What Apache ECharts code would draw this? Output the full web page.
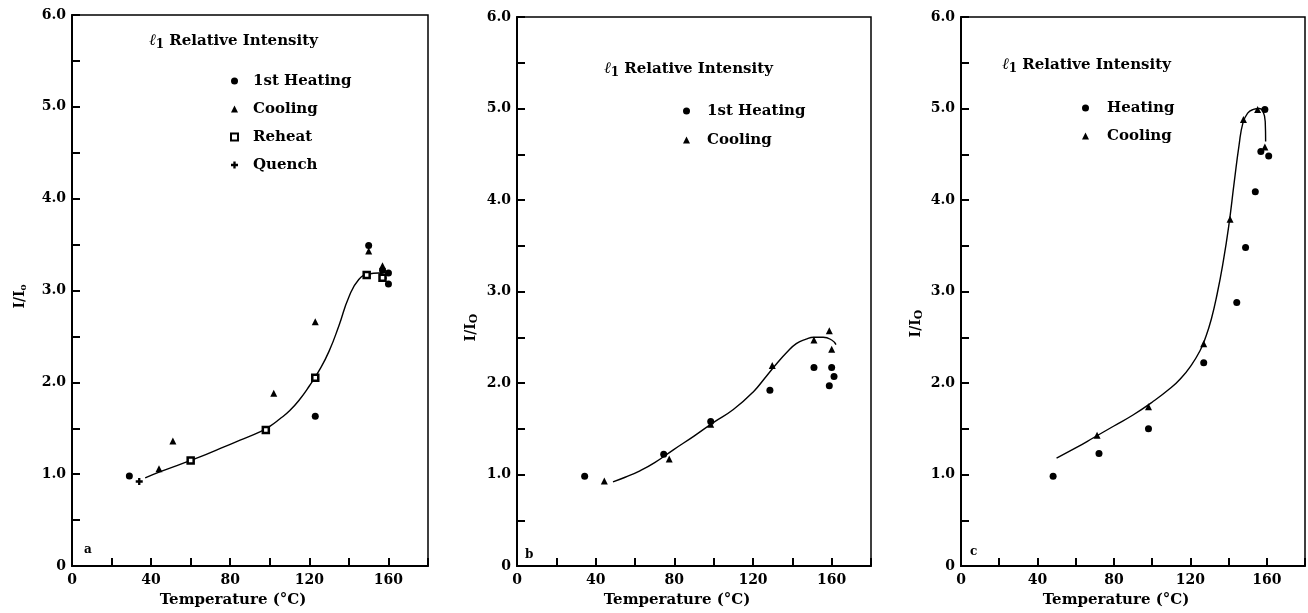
<!DOCTYPE html>
<html>
<head>
<meta charset="utf-8">
<script src="https://cdn.jsdelivr.net/npm/echarts@6/dist/echarts.min.js"></script>
<style>html,body{margin:0;padding:0;background:#fff}#c{width:1308px;height:613px}</style>
</head>
<body>
<div id="c"></div>
<script>
// ---- data (temperature °C, I/I0) ----
var heatA = [[29,0.98],[123,1.63],[150,3.49],[157,3.22],[160,3.19],[160,3.07]];
var coolA = [[44,1.06],[51,1.36],[102,1.88],[123,2.66],[150,3.43],[157,3.27]];
var reheatA = [[60,1.15],[98,1.48],[123,2.05],[149,3.17],[157,3.14]];
var quenchA = [[34,0.92]];
var curveA = [[37,0.96],[45,1.03],[55,1.11],[65,1.19],[75,1.28],[85,1.37],[95,1.46],[100,1.52],[105,1.6],[110,1.69],[115,1.81],[120,1.96],[125,2.13],[130,2.34],[135,2.62],[140,2.93],[145,3.12],[150,3.18],[155,3.19],[159,3.13]];

var heatB = [[34.4,0.98],[74.6,1.22],[98.5,1.58],[128.6,1.92],[151,2.17],[160,2.17],[158.8,1.97],[161.2,2.07]];
var coolB = [[44.4,0.93],[77.4,1.17],[98.5,1.55],[129.8,2.19],[151,2.47],[158.8,2.57],[160,2.37]];
var curveB = [[48.8,0.92],[55,0.97],[62.5,1.04],[70,1.13],[79.5,1.27],[90,1.42],[100,1.57],[110,1.71],[120,1.9],[127,2.08],[132,2.21],[137,2.33],[142,2.43],[147,2.48],[151,2.5],[155.7,2.5],[160,2.47],[162.2,2.42]];

var heatC = [[48.2,0.98],[72.2,1.23],[98.1,1.50],[127,2.22],[144.3,2.88],[148.9,3.48],[154,4.09],[159,4.99],[156.9,4.53],[161,4.48]];
var coolC = [[71.2,1.43],[98.1,1.74],[127,2.43],[140.8,3.79],[147.8,4.88],[155.2,4.99],[159,4.58]];
var curveC = [[50,1.18],[60,1.29],[70,1.41],[80,1.53],[90,1.65],[100,1.79],[110,1.95],[115,2.05],[120,2.18],[125,2.35],[128,2.5],[131,2.7],[134,2.97],[137,3.3],[140,3.7],[143,4.2],[145.5,4.6],[147.5,4.84],[150,4.95],[153,4.99],[156,5.0],[158,4.97],[159.2,4.85],[159.4,4.64]];

var xTickLabels = [0,40,80,120,160];
var yTickLabels = [0,1,2,3,4,5,6];
var panelLetters = ['a','b','c'];
var titleText = 'Relative Intensity';
var xName = 'Temperature (°C)';

var FONT = 'DejaVu Serif';
var PLUS = 'path://M2,0H4V2H6V4H4V6H2V4H0V2H2Z';

var grids = [
  {left:72, top:15, width:356, height:554},
  {left:517, top:17, width:354, height:552},
  {left:961, top:17, width:354, height:551}
];

function xAxis(i){
  return {
    gridIndex:i, type:'value', min:0, max:180, interval:20,
    axisLine:{show:true, onZero:false, lineStyle:{color:'#000', width:2}},
    axisTick:{show:true, inside:true, length:8, lineStyle:{color:'#000', width:2}},
    splitLine:{show:false},
    axisLabel:{color:'#000', fontFamily:FONT, fontWeight:'bold', fontSize:14, margin:7,
      formatter:function(v){ return xTickLabels.indexOf(v)>=0 ? String(v) : ''; }},
    name:xName, nameLocation:'middle', nameGap:27,
    nameTextStyle:{color:'#000', fontFamily:FONT, fontWeight:'bold', fontSize:15, padding:[0,34,0,0]}
  };
}
function yAxis(i, nameRich, gap, shift){
  return {
    gridIndex:i, type:'value', min:0, max:6, interval:0.5,
    axisLine:{show:true, onZero:false, lineStyle:{color:'#000', width:2}},
    axisTick:{show:true, inside:true, length:8, lineStyle:{color:'#000', width:2}},
    splitLine:{show:false},
    axisLabel:{color:'#000', fontFamily:FONT, fontWeight:'bold', fontSize:14, margin:6,
      formatter:function(v){ return yTickLabels.indexOf(v)>=0 ? (v===0?'0':v.toFixed(1)) : ''; }},
    name:nameRich, nameLocation:'middle', nameGap:gap, nameRotate:90,
    nameTextStyle:{color:'#000', fontFamily:FONT, fontWeight:'bold', fontSize:14, padding:[0,shift,0,0],
      rich:{t:{fontFamily:FONT, fontWeight:'bold', fontSize:14, color:'#000'},
            s:{fontFamily:FONT, fontWeight:'bold', fontSize:9, color:'#000', padding:[6,0,0,0]},
            S:{fontFamily:FONT, fontWeight:'bold', fontSize:11, color:'#000', padding:[6,0,0,0]}}}
  };
}

function sc(name, data, i, symbol, size, hollow){
  return {type:'scatter', name:name, xAxisIndex:i, yAxisIndex:i, data:data,
    symbol:symbol, symbolSize:size,
    itemStyle: hollow ? {color:'#fff', borderColor:'#000', borderWidth:2.5, opacity:1} : {color:'#000', opacity:1},
    z:3};
}
function ln(data, i){
  return {type:'line', name:'fit'+i, xAxisIndex:i, yAxisIndex:i, data:data,
    smooth:0.5, showSymbol:false, symbol:'none',
    lineStyle:{color:'#000', width:1.4}, z:2, silent:true};
}

var titleStyle = {fontFamily:FONT, fontWeight:'bold', fontSize:15, color:'#000',
  rich:{l:{fontFamily:'DejaVu Serif', fontStyle:'italic', fontWeight:'normal', fontSize:16, color:'#000'},
        s:{fontFamily:FONT, fontWeight:'bold', fontSize:12, color:'#000', padding:[8,0,0,0]},
        n:{fontFamily:FONT, fontWeight:'bold', fontSize:15, color:'#000'}}};
function ttl(left, top){
  return {text:'{l|ℓ}{s|1}{n| '+titleText+'}', left:left, top:top, padding:0, textStyle:titleStyle};
}
function letter(t, left, top){
  return {text:t, left:left, top:top, padding:0,
    textStyle:{fontFamily:FONT, fontWeight:'bold', fontSize:12, color:'#000'}};
}
function lg(data, left, top, gap, pad){
  return {data:data, left:left, top:top, orient:'vertical', itemWidth:7, itemHeight:7,
    itemGap:gap, selectedMode:false, padding:0,
    textStyle:{fontFamily:FONT, fontWeight:'bold', fontSize:15, color:'#000', lineHeight:18, padding:[0,0,0,pad]}};
}

var option = {
  animation:false,
  backgroundColor:'#fff',
  title:[
    ttl(149,31), ttl(604,59), ttl(1002,55),
    letter(panelLetters[0],84,544), letter(panelLetters[1],525,549), letter(panelLetters[2],970,546)
  ],
  legend:[
    lg(['1st Heating','Cooling','Reheat','Quench'], 230, 72, 10, 10),
    lg(['1st Heating','Cooling'], 683, 102, 11, 12),
    lg(['Heating','Cooling'], 1082, 99, 10, 13)
  ],
  grid:grids.map(function(g){ return Object.assign({show:true, borderColor:'#000', borderWidth:1.5, backgroundColor:'transparent'}, g); }),
  xAxis:[xAxis(0), xAxis(1), xAxis(2)],
  yAxis:[
    yAxis(0, '{t|I/I}{s|o}', 44, 12),
    yAxis(1, '{t|I/I}{S|O}', 37, 72),
    yAxis(2, '{t|I/I}{S|O}', 36, 64)
  ],
  series:[
    ln(curveA,0), ln(curveB,1), ln(curveC,2),
    sc('1st Heating', heatA, 0, 'circle', 7),
    sc('Cooling', coolA, 0, 'triangle', 7),
    sc('Reheat', reheatA, 0, 'rect', 6, true),
    sc('Quench', quenchA, 0, PLUS, 7),
    sc('1st Heating', heatB, 1, 'circle', 7),
    sc('Cooling', coolB, 1, 'triangle', 7),
    sc('Heating', heatC, 2, 'circle', 7),
    sc('Cooling', coolC, 2, 'triangle', 7)
  ]
};
var chart = echarts.init(document.getElementById('c'), null, {renderer:'canvas'});
chart.setOption(option);
</script>
</body>
</html>
